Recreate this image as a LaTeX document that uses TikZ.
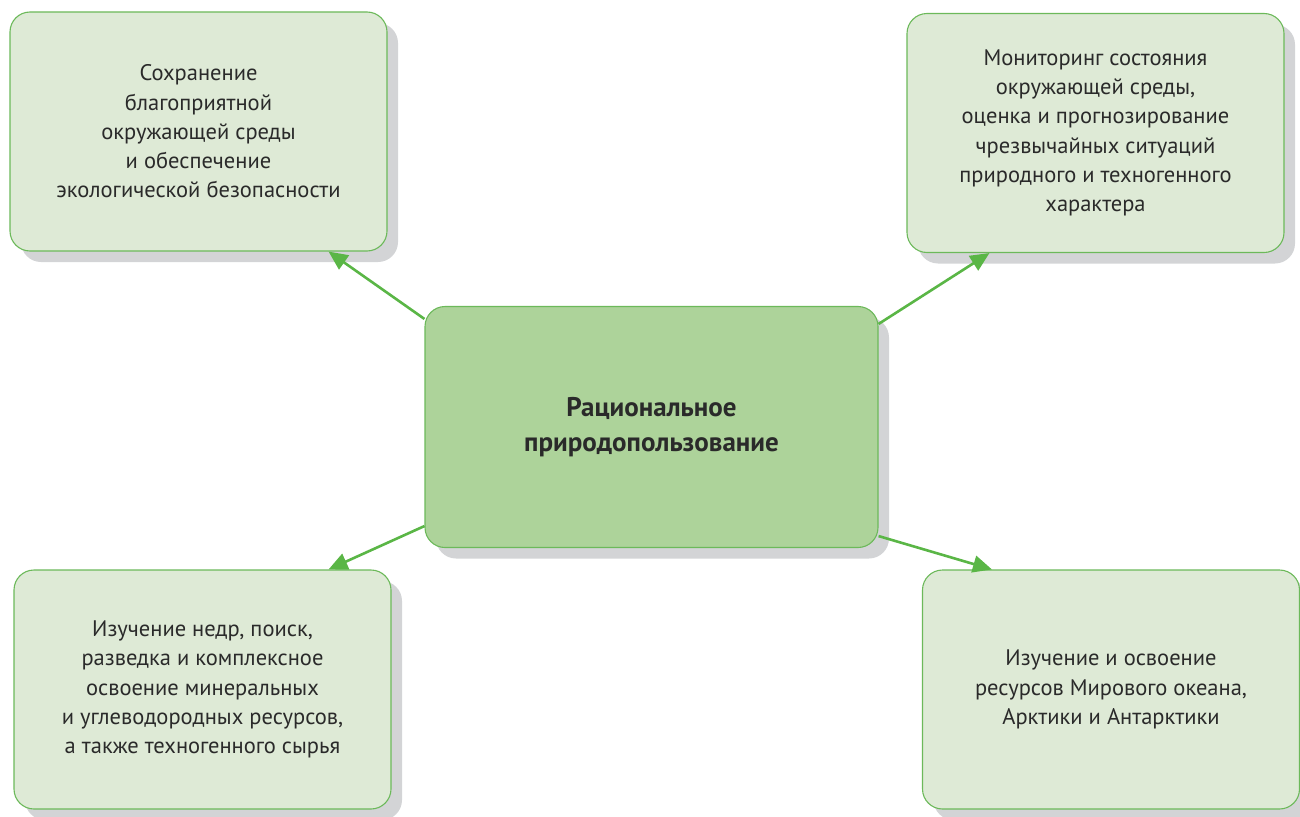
\documentclass[tikz,border=0pt]{standalone}
\usepackage{fontspec}
\setmainfont{PT Sans}
\usetikzlibrary{arrows.meta,shadows}
\definecolor{boxfill}{HTML}{DEEAD6}
\definecolor{mainfill}{HTML}{ADD39A}
\definecolor{edgegreen}{HTML}{6CB95A}
\definecolor{arrgreen}{HTML}{5AB646}
\definecolor{shadowgray}{HTML}{D3D4D6}
\definecolor{txtgray}{HTML}{2A2A2A}
\tikzset{
  topic/.style={draw=edgegreen, line width=1.1pt, fill=boxfill, rounded corners=20pt,
    minimum width=377pt, minimum height=239pt, align=center, text=txtgray,
    font=\fontsize{22.5}{29.3}\selectfont,
    drop shadow={shadow xshift=11pt, shadow yshift=-11pt, opacity=1, fill=shadowgray}},
  hub/.style={topic, fill=mainfill, minimum width=453pt, minimum height=241pt,
    font=\fontsize{27}{35}\selectfont\bfseries},
  link/.style={draw=arrgreen, line width=2.6pt, -{Triangle[length=19pt,width=17pt]}}
}
\begin{document}
\begin{tikzpicture}[x=1pt,y=-1pt]
\useasboundingbox (0,0) rectangle (1300,816);
  % Center
  \node[hub] (hub) at (651.5,427) {Рациональное\\природопользование};
  % Four directions
  \node[topic] (nature) at (198.5,131.5)
    {Сохранение\\благоприятной\\окружающей среды\\и обеспечение\\экологической безопасности};
  \node[topic] (monitor) at (1095.5,133)
    {Мониторинг состояния\\окружающей среды,\\оценка и прогнозирование\\чрезвычайных ситуаций\\природного и техногенного\\характера};
  \node[topic] (mineral) at (202.5,689.5)
    {Изучение недр, поиск,\\разведка и комплексное\\освоение минеральных\\и углеводородных ресурсов,\\а также техногенного сырья};
  \node[topic] (ocean) at (1111,689.5)
    {Изучение и освоение\\ресурсов Мирового океана,\\Арктики и Антарктики};
  % Arrows
  \draw[link] ([yshift=-13pt]hub.north west) -- ([xshift=-59pt]nature.south east);
  \draw[link] ([yshift=-18pt]hub.north east) -- ([xshift=83pt]monitor.south west);
  \draw[link] ([yshift=22pt]hub.south west) -- ([xshift=-63pt]mineral.north east);
  \draw[link] ([yshift=12pt]hub.south east) -- ([xshift=70pt]ocean.north west);
\end{tikzpicture}
\end{document}
